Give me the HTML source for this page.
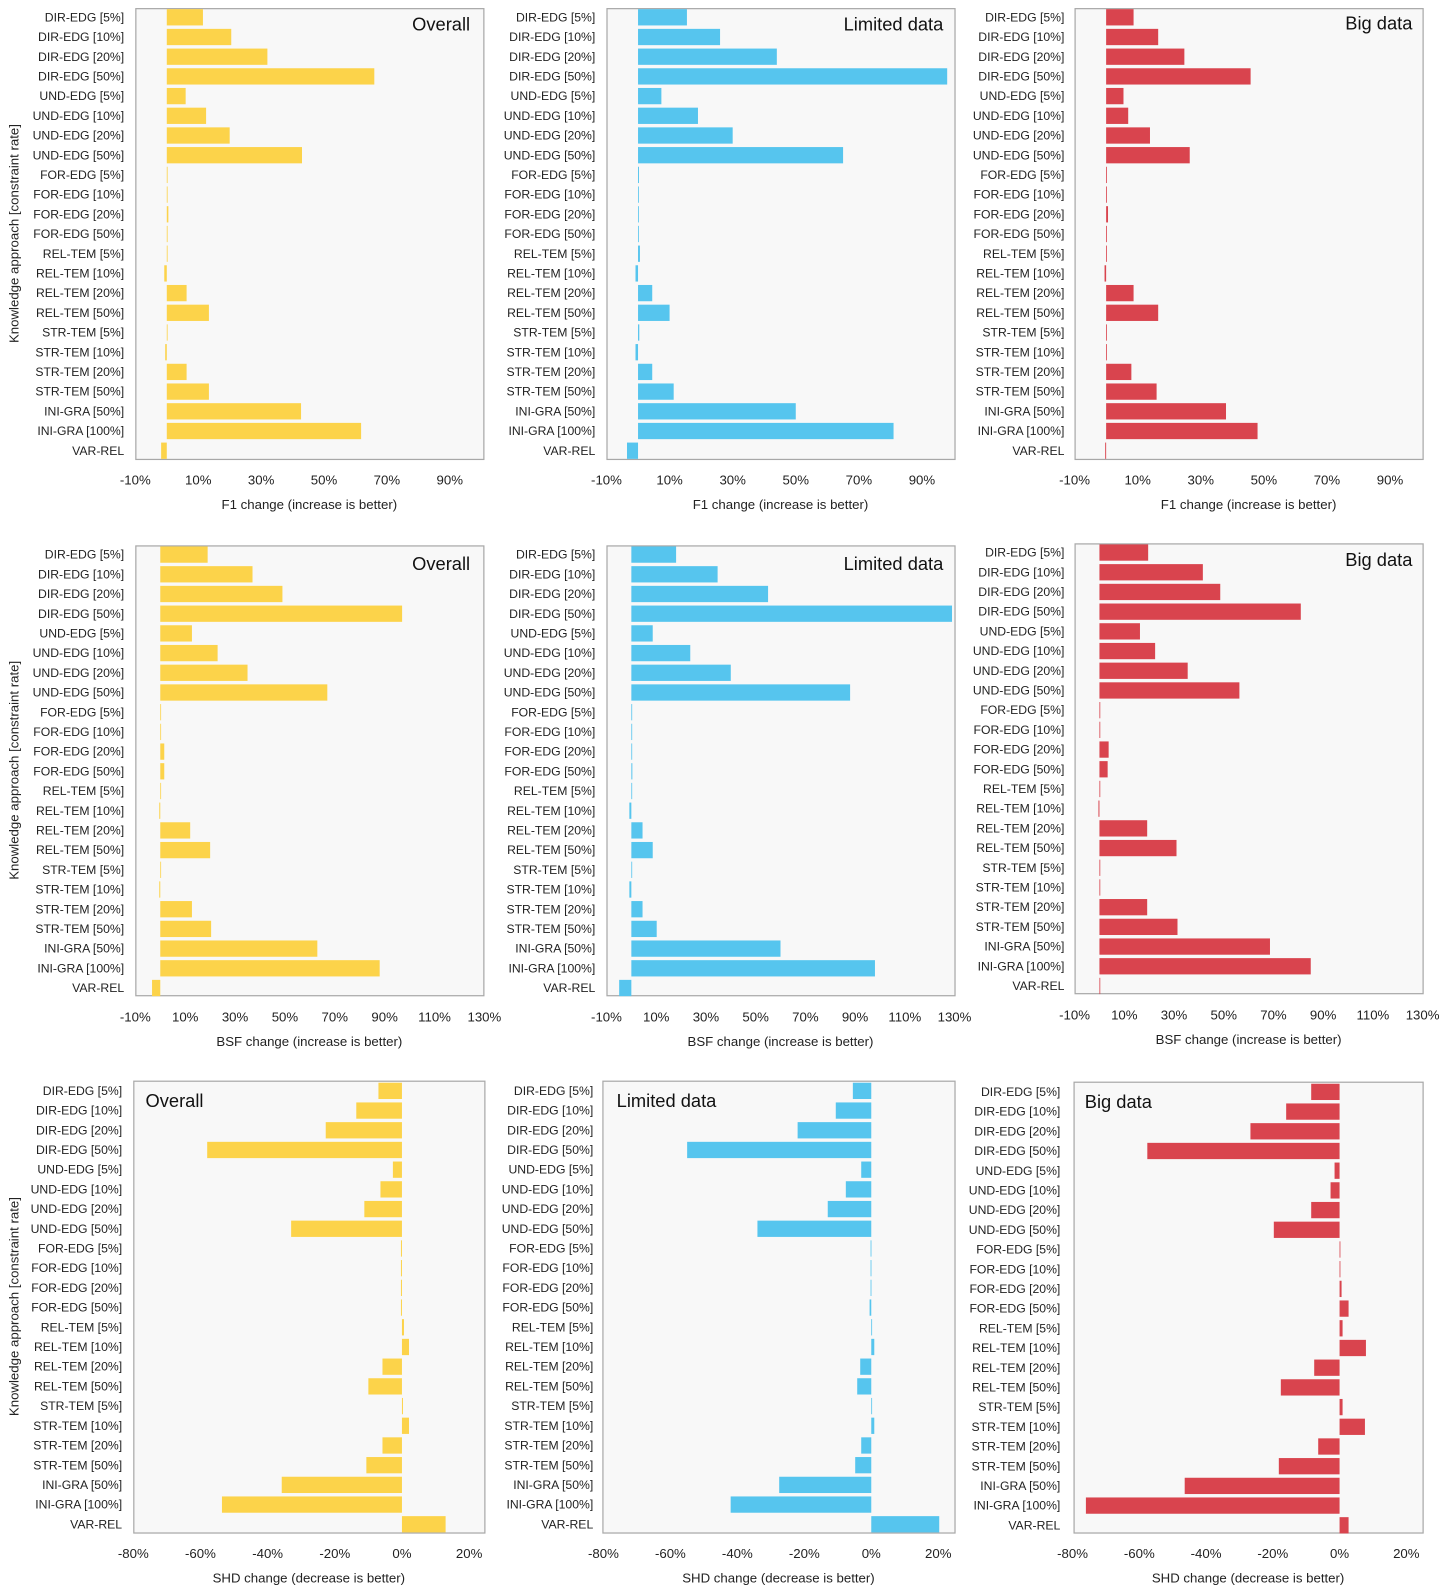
<!DOCTYPE html>
<html><head><meta charset="utf-8">
<style>
body{margin:0;background:#fff;}
svg{display:block;font-family:"Liberation Sans",Arial,sans-serif;}
</style></head>
<body>
<svg id="chart" width="1449" height="1596" viewBox="0 0 1449 1596" xmlns="http://www.w3.org/2000/svg"><g id="root" transform="scale(1.0176)"></g></svg>
<script>
const categories=["DIR-EDG [5%]","DIR-EDG [10%]","DIR-EDG [20%]","DIR-EDG [50%]","UND-EDG [5%]","UND-EDG [10%]","UND-EDG [20%]","UND-EDG [50%]","FOR-EDG [5%]","FOR-EDG [10%]","FOR-EDG [20%]","FOR-EDG [50%]","REL-TEM [5%]","REL-TEM [10%]","REL-TEM [20%]","REL-TEM [50%]","STR-TEM [5%]","STR-TEM [10%]","STR-TEM [20%]","STR-TEM [50%]","INI-GRA [50%]","INI-GRA [100%]","VAR-REL"];
const f1Overall=[11.5,20.5,32,66,6,12.5,20,43,0,0,0.5,0,0,-0.8,6.3,13.4,0,-0.5,6.3,13.4,42.7,61.8,-1.8];
const f1Limited=[15.5,26,44,98,7.4,19,30,65,0.3,0.2,0.2,0.2,0.6,-0.8,4.5,10,0.4,-0.8,4.5,11.3,50,81,-3.5];
const f1Big=[8.7,16.5,24.8,45.8,5.5,7,13.9,26.5,0,0,0.6,0,0,-0.5,8.7,16.5,0,0,8,16,38,48,-0.3];
const bsfOverall=[19,37,49,97,12.7,23,35,67,0,0,1.6,1.6,0,-0.4,12,20,0,-0.4,12.7,20.4,63,88,-3.3];
const bsfLimited=[18,34.7,55,129,8.6,23.7,40,88,0.2,0.2,0.3,0.4,0.2,-0.8,4.5,8.6,0.2,-0.8,4.5,10.2,60,98,-4.9];
const bsfBig=[19.6,41.6,48.6,81,16.3,22.4,35.5,56.3,0,0.2,3.7,3.3,0,-0.4,19.2,31,0,0,19.2,31.4,68.6,85,0];
const shdOverall=[-7,-13.6,-22.7,-58,-2.7,-6.4,-11.2,-33,-0.3,-0.3,-0.3,-0.3,0.6,2.1,-5.8,-10,0.3,2.1,-5.8,-10.6,-35.8,-53.6,13];
const shdLimited=[-5.5,-10.6,-22,-55,-3,-7.6,-13,-34,-0.2,-0.2,-0.2,-0.5,0.2,0.9,-3.3,-4.2,0.2,0.9,-3,-4.8,-27.5,-42,20.3];
const shdBig=[-8.5,-16,-26.7,-57.6,-1.5,-2.7,-8.5,-19.7,0,0,0.6,2.7,0.9,7.9,-7.6,-17.6,0.9,7.6,-6.4,-18.2,-46.4,-76,2.7];
const f1Ticks=[-10,10,30,50,70,90];
const bsfTicks=[-10,10,30,50,70,90,110,130];
const shdTicks=[-80,-60,-40,-20,0,20];

const NS="http://www.w3.org/2000/svg";
const svg=document.getElementById('root');
function mk(tag,attrs,parent){const e=document.createElementNS(NS,tag);for(const k in attrs)e.setAttribute(k,attrs[k]);(parent||svg).appendChild(e);return e;}

const colors={y:"#FCD34A",b:"#56C5EE",r:"#D9444E"};
const panels=[
 {name:"f1-overall",data:f1Overall,ticks:f1Ticks,c:"y",fx:[133,475],fy:[8,451],cal:[-10,133,90,442],lab:122,row0:17,title:"Overall",tpos:[462,30,"end"],xl:"F1 change (increase is better)",ty:476,xly:500,ytitle:true},
 {name:"f1-limited",data:f1Limited,ticks:f1Ticks,c:"b",fx:[596,938],fy:[8,451],cal:[-10,596,90,906],lab:585,row0:17,title:"Limited data",tpos:[927,30,"end"],xl:"F1 change (increase is better)",ty:476,xly:500},
 {name:"f1-big",data:f1Big,ticks:f1Ticks,c:"r",fx:[1056,1398],fy:[8,451],cal:[-10,1056,90,1366],lab:1046,row0:17,title:"Big data",tpos:[1388,29,"end"],xl:"F1 change (increase is better)",ty:476,xly:500},
 {name:"bsf-overall",data:bsfOverall,ticks:bsfTicks,c:"y",fx:[133,475],fy:[536,978],cal:[-10,133,130,476],lab:122,row0:545,title:"Overall",tpos:[462,560,"end"],xl:"BSF change (increase is better)",ty:1004,xly:1028,ytitle:true},
 {name:"bsf-limited",data:bsfLimited,ticks:bsfTicks,c:"b",fx:[596,938],fy:[536,978],cal:[-10,596,130,938],lab:585,row0:545,title:"Limited data",tpos:[927,560,"end"],xl:"BSF change (increase is better)",ty:1004,xly:1028},
 {name:"bsf-big",data:bsfBig,ticks:bsfTicks,c:"r",fx:[1056,1398],fy:[534,976],cal:[-10,1056,130,1398],lab:1046,row0:543,title:"Big data",tpos:[1388,556,"end"],xl:"BSF change (increase is better)",ty:1002,xly:1026},
 {name:"shd-overall",data:shdOverall,ticks:shdTicks,c:"y",fx:[131,476],fy:[1062,1506],cal:[-80,131,20,461],lab:120,row0:1072,title:"Overall",tpos:[143,1088,"start"],xl:"SHD change (decrease is better)",ty:1531,xly:1555,ytitle:true},
 {name:"shd-limited",data:shdLimited,ticks:shdTicks,c:"b",fx:[592,938],fy:[1062,1506],cal:[-80,593,20,922],lab:583,row0:1072,title:"Limited data",tpos:[606,1088,"start"],xl:"SHD change (decrease is better)",ty:1531,xly:1555},
 {name:"shd-big",data:shdBig,ticks:shdTicks,c:"r",fx:[1055,1398],fy:[1063,1506],cal:[-80,1054,20,1382],lab:1042,row0:1073,title:"Big data",tpos:[1066,1089,"start"],xl:"SHD change (decrease is better)",ty:1531,xly:1555}
];
const step=19.36, bh=16;
panels.forEach(p=>{
  const g=mk('g',{});
  
  
  const sx=v=>p.cal[1]+(v-p.cal[0])*(p.cal[3]-p.cal[1])/(p.cal[2]-p.cal[0]);
  const fr=mk('rect',{x:p.fx[0]+0.5,y:p.fy[0]+0.5,width:p.fx[1]-p.fx[0],height:p.fy[1]-p.fy[0],fill:"#f8f8f8",stroke:"#a8a8a8","stroke-width":1.2},g);
  
  
  const z=sx(0);
  p.data.forEach((v,i)=>{
    const cy=p.row0+i*step;
    const x1=sx(v);
    const r=mk('rect',{x:Math.min(z,x1),y:cy-bh/2,width:Math.max(Math.abs(x1-z),0.8),height:bh,fill:colors[p.c]},g);
    
    
    const t=mk('text',{x:p.lab,y:cy+4,"font-size":12,"text-anchor":"end",fill:"#222"},g);
    t.textContent=categories[i];
    
    
  });
  p.ticks.forEach(tv=>{
    const t=mk('text',{x:sx(tv),y:p.ty,"font-size":13,"text-anchor":"middle",fill:"#222"},g);
    t.textContent=tv+"%";
    
    
  });
  const xl=mk('text',{x:(p.fx[0]+p.fx[1])/2,y:p.xly,"font-size":13,"text-anchor":"middle",fill:"#222"},g);
  xl.textContent=p.xl;
  
  
  const tt=mk('text',{x:p.tpos[0],y:p.tpos[1],"font-size":18,"text-anchor":p.tpos[2],fill:"#111"},g);
  tt.textContent=p.title;
  
  
  if(p.ytitle){
    const cy=(p.fy[0]+p.fy[1])/2;
    const yt=mk('text',{x:18,y:cy,"font-size":13,"text-anchor":"middle",fill:"#222",transform:`rotate(-90 18 ${cy})`},g);
    yt.textContent="Knowledge approach [constraint rate]";
    
    
  }
});
</script>
</body></html>
